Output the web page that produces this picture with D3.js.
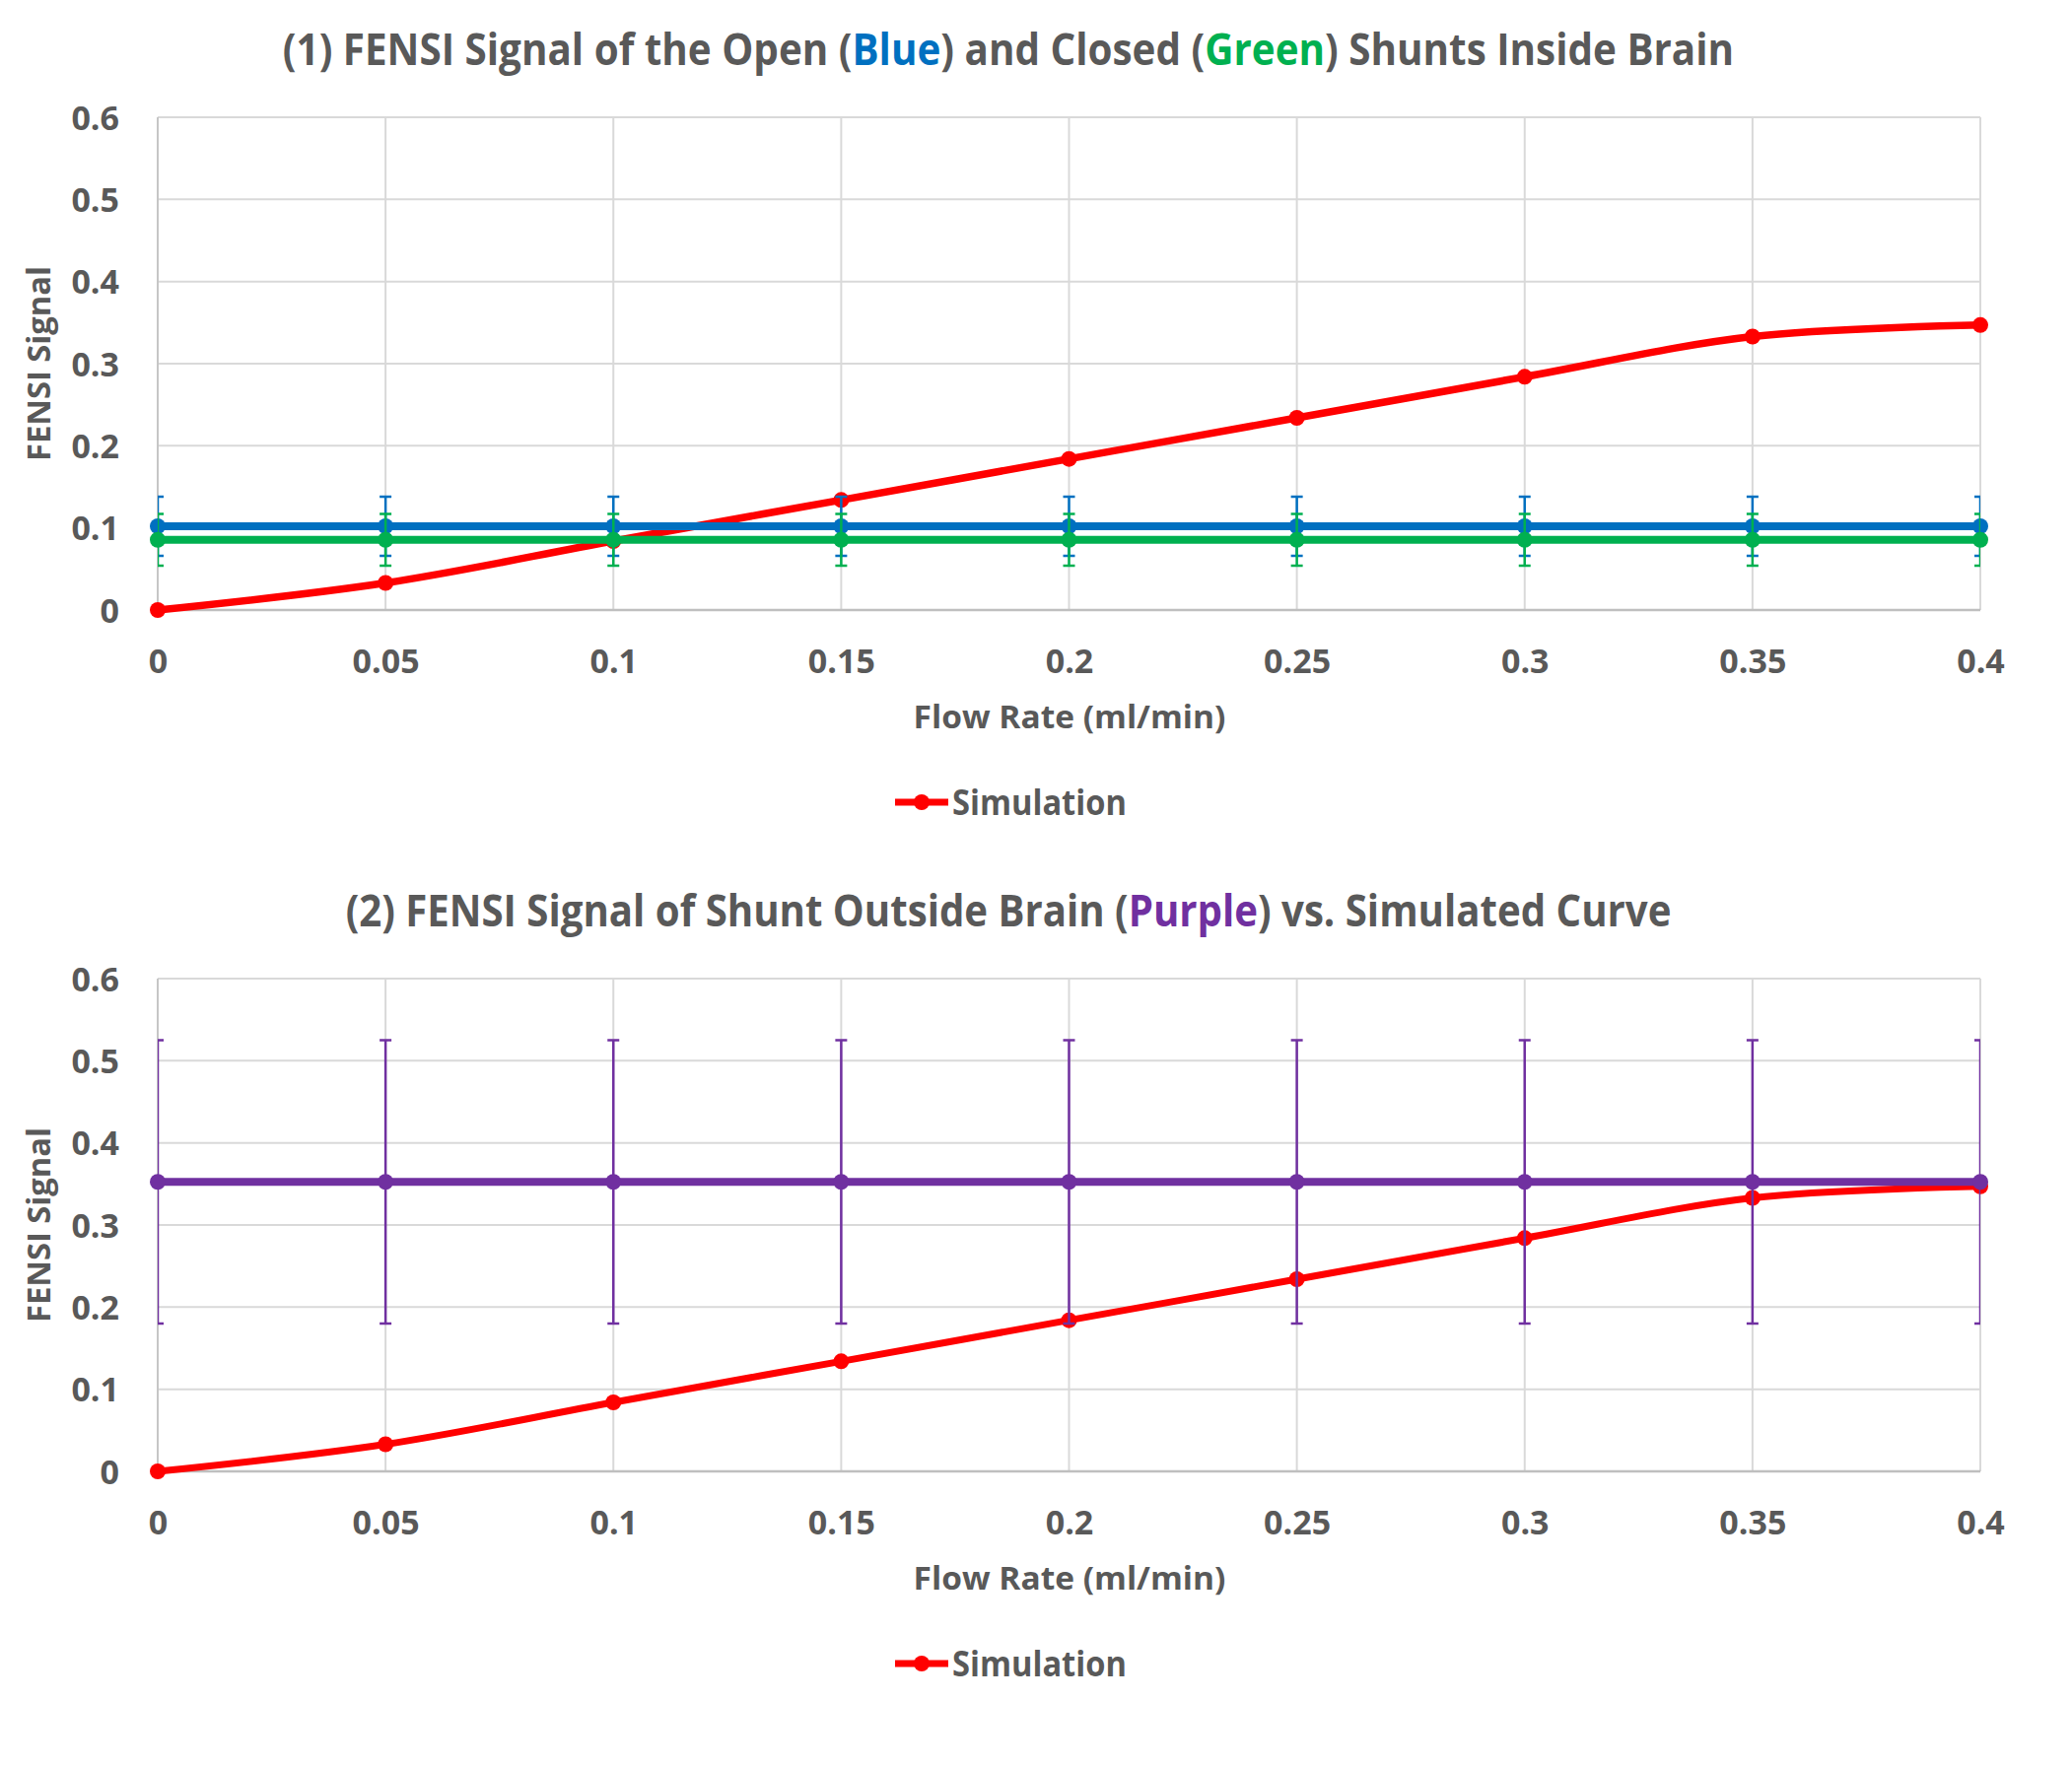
<!DOCTYPE html>
<html>
<head>
<meta charset="utf-8">
<script src="https://cdn.jsdelivr.net/npm/d3@7"></script>
<style>
  html, body { margin: 0; padding: 0; background: #ffffff; }
  svg { display: block; }
</style>
</head>
<body>
<svg id="chart" width="2102" height="1794"></svg>
<script>
// ---------------- data ----------------
const flowRates = [0, 0.05, 0.1, 0.15, 0.2, 0.25, 0.3, 0.35, 0.4];
const simulation = [0, 0.033, 0.084, 0.134, 0.184, 0.234, 0.284, 0.333, 0.347];
const openShunt = [0.102, 0.102, 0.102, 0.102, 0.102, 0.102, 0.102, 0.102, 0.102];
const openErr = [0.036, 0.036, 0.036, 0.036, 0.036, 0.036, 0.036, 0.036, 0.036];
const closedShunt = [0.0855, 0.0855, 0.0855, 0.0855, 0.0855, 0.0855, 0.0855, 0.0855, 0.0855];
const closedErr = [0.0315, 0.0315, 0.0315, 0.0315, 0.0315, 0.0315, 0.0315, 0.0315, 0.0315];
const outsideShunt = [0.3525, 0.3525, 0.3525, 0.3525, 0.3525, 0.3525, 0.3525, 0.3525, 0.3525];
const outsideErr = [0.1725, 0.1725, 0.1725, 0.1725, 0.1725, 0.1725, 0.1725, 0.1725, 0.1725];
const xTicks = [0, 0.05, 0.1, 0.15, 0.2, 0.25, 0.3, 0.35, 0.4];
const xTickLabels = ["0", "0.05", "0.1", "0.15", "0.2", "0.25", "0.3", "0.35", "0.4"];
const yTicks = [0, 0.1, 0.2, 0.3, 0.4, 0.5, 0.6];
const yTickLabels = ["0", "0.1", "0.2", "0.3", "0.4", "0.5", "0.6"];
const title1Parts = [
  {t: "(1) FENSI Signal of the Open (", c: "#595959"},
  {t: "Blue", c: "#0070C0"},
  {t: ") and Closed (", c: "#595959"},
  {t: "Green", c: "#00B050"},
  {t: ") Shunts Inside Brain", c: "#595959"}
];
const title2Parts = [
  {t: "(2) FENSI Signal of Shunt Outside Brain (", c: "#595959"},
  {t: "Purple", c: "#7030A0"},
  {t: ") vs. Simulated Curve", c: "#595959"}
];
const xAxisTitle = "Flow Rate (ml/min)";
const yAxisTitle = "FENSI Signal";
const legendLabel = "Simulation";

// ---------------- layout ----------------
const svg = d3.select("#chart");
const FONT = "'Open Sans', 'Noto Sans', sans-serif";
const TXT = "#595959";
const left = 160, right = 2009;

function fitText(sel, width, cx, y) {
  const node = sel.node();
  const w = node.getComputedTextLength();
  const k = width / w;
  sel.attr("transform", `translate(${cx},${y}) scale(${k},1)`);
}

function drawChart(cfg) {
  const g = svg.append("g");
  const top = cfg.top, bottom = cfg.top + 500;
  const x = d3.scaleLinear().domain([0, 0.4]).range([left, right]);
  const y = d3.scaleLinear().domain([0, 0.6]).range([bottom, top]);

  // gridlines
  g.append("g").selectAll("line.h").data(yTicks.slice(1)).join("line")
    .attr("x1", left).attr("x2", right)
    .attr("y1", d => y(d)).attr("y2", d => y(d))
    .attr("stroke", "#D9D9D9").attr("stroke-width", 2);
  g.append("g").selectAll("line.v").data(xTicks.slice(1)).join("line")
    .attr("x1", d => x(d)).attr("x2", d => x(d))
    .attr("y1", top).attr("y2", bottom)
    .attr("stroke", "#D9D9D9").attr("stroke-width", 2);

  // axes using d3 axis generators (tick marks hidden)
  const yAxis = d3.axisLeft(y).tickValues(yTicks).tickFormat((d, i) => yTickLabels[i]).tickSize(0).tickPadding(39);
  const yg = g.append("g").attr("transform", `translate(${left},0)`).call(yAxis);
  yg.select(".domain").remove();
  yg.selectAll("text").attr("font-family", FONT).attr("font-weight", 700)
    .attr("font-size", 34).attr("fill", TXT).attr("dy", "0.36em");

  const xAxis = d3.axisBottom(x).tickValues(xTicks).tickFormat((d, i) => xTickLabels[i]).tickSize(0).tickPadding(0);
  const xg = g.append("g").attr("transform", `translate(0,${bottom})`).call(xAxis);
  xg.select(".domain").remove();
  xg.selectAll("text").attr("font-family", FONT).attr("font-weight", 700)
    .attr("font-size", 34).attr("fill", TXT).attr("y", 64).attr("dy", 0);

  // axis lines
  g.append("line").attr("x1", left).attr("x2", left).attr("y1", top).attr("y2", bottom)
    .attr("stroke", "#C6C6C6").attr("stroke-width", 2);
  g.append("line").attr("x1", left).attr("x2", right).attr("y1", bottom).attr("y2", bottom)
    .attr("stroke", "#BFBFBF").attr("stroke-width", 2.5);

  // clip for error bars
  const clipId = "clip" + cfg.id;
  svg.append("clipPath").attr("id", clipId).append("rect")
    .attr("x", left).attr("y", 0).attr("width", right - left).attr("height", 1794);

  const idx = d3.range(flowRates.length);

  function drawSeries(vals, color, width, r, curve) {
    const line = d3.line().x(i => x(flowRates[i])).y(i => y(vals[i])).curve(curve);
    g.append("path").datum(idx).attr("d", line).attr("fill", "none")
      .attr("stroke", color).attr("stroke-width", width).attr("stroke-linejoin", "round");
    g.append("g").selectAll("circle").data(idx).join("circle")
      .attr("cx", i => x(flowRates[i])).attr("cy", i => y(vals[i])).attr("r", r).attr("fill", color);
  }
  function drawErr(vals, errs, color, w) {
    const eg = g.append("g").attr("clip-path", `url(#${clipId})`)
      .attr("stroke", color).attr("stroke-width", w).attr("fill", "none");
    idx.forEach(i => {
      const cx = x(flowRates[i]);
      const y1 = y(vals[i] + errs[i]), y0 = y(vals[i] - errs[i]);
      eg.append("line").attr("x1", cx).attr("x2", cx).attr("y1", y1).attr("y2", y0);
      eg.append("line").attr("x1", cx - 6).attr("x2", cx + 6).attr("y1", y1).attr("y2", y1);
      eg.append("line").attr("x1", cx - 6).attr("x2", cx + 6).attr("y1", y0).attr("y2", y0);
    });
  }
  cfg.series(drawSeries, drawErr);

  // title
  const tt = g.append("text").attr("font-family", FONT).attr("font-weight", 700)
    .attr("font-size", 44).attr("text-anchor", "middle");
  cfg.title.forEach(p => tt.append("tspan").attr("fill", p.c).text(p.t));
  fitText(tt, cfg.titleWidth, cfg.titleCx, top - 53);

  // x axis title
  const xt = g.append("text").attr("font-family", FONT).attr("font-weight", 700)
    .attr("font-size", 32).attr("fill", TXT).attr("text-anchor", "middle").text(xAxisTitle);
  fitText(xt, 317, 1085, bottom + 120);

  // y axis title
  const yt = g.append("text").attr("font-family", FONT).attr("font-weight", 700)
    .attr("font-size", 33).attr("fill", TXT).attr("text-anchor", "middle").text(yAxisTitle);
  const yw = yt.node().getComputedTextLength();
  yt.attr("transform", `translate(51,${(top + bottom) / 2}) rotate(-90) scale(${198 / yw},1)`);

  // legend
  const ly = bottom + 195;
  g.append("line").attr("x1", 908).attr("x2", 962).attr("y1", ly).attr("y2", ly)
    .attr("stroke", "#FF0000").attr("stroke-width", 7);
  g.append("circle").attr("cx", 935).attr("cy", ly).attr("r", 8).attr("fill", "#FF0000");
  const lt = g.append("text").attr("font-family", FONT).attr("font-weight", 700)
    .attr("font-size", 35).attr("fill", TXT).text(legendLabel);
  const lw = lt.node().getComputedTextLength();
  lt.attr("transform", `translate(966,${bottom + 208}) scale(${177 / lw},1)`);
}

drawChart({
  id: 1, top: 119, title: title1Parts, titleWidth: 1473, titleCx: 1023,
  series: (drawSeries, drawErr) => {
    drawSeries(simulation, "#FF0000", 7.5, 8, d3.curveCatmullRom);
    drawSeries(openShunt, "#0070C0", 8, 8, d3.curveLinear);
    drawErr(openShunt, openErr, "#0070C0", 2.5);
    drawSeries(closedShunt, "#00B050", 8, 8, d3.curveLinear);
    drawErr(closedShunt, closedErr, "#00B050", 2.5);
  }
});
drawChart({
  id: 2, top: 993, title: title2Parts, titleWidth: 1345, titleCx: 1023,
  series: (drawSeries, drawErr) => {
    drawSeries(simulation, "#FF0000", 7, 8, d3.curveCatmullRom);
    drawSeries(outsideShunt, "#7030A0", 8, 8, d3.curveLinear);
    drawErr(outsideShunt, outsideErr, "#7030A0", 2.5);
  }
});
</script>
</body>
</html>
